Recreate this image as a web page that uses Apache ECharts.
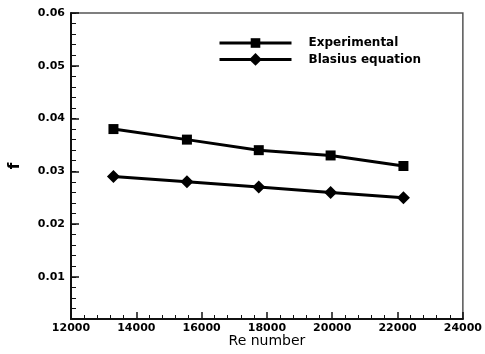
<!DOCTYPE html>
<html>
<head>
<meta charset="utf-8">
<script src="https://cdn.jsdelivr.net/npm/echarts@6/dist/echarts.min.js"></script>
<style>html,body{margin:0;padding:0;background:#fff;}#c{width:485px;height:354px;}</style>
</head>
<body>
<div id="c"></div>
<script>
var reNumbers = [13300, 15550, 17750, 19950, 22180];
var experimental = [0.038, 0.036, 0.034, 0.033, 0.031];
var blasius = [0.029, 0.028, 0.027, 0.026, 0.025];
var seriesNames = ['Experimental', 'Blasius equation'];
var xTitle = 'Re number';
var yTitle = 'f';

function pairs(xs, ys) { return xs.map(function (x, i) { return [x, ys[i]]; }); }

var font = 'DejaVu Sans';
var legendText = { fontFamily: font, fontSize: 12, fontWeight: 'bold', color: '#000' };
var chart = echarts.init(document.getElementById('c'), null, { renderer: 'canvas' });
chart.setOption({
  animation: false,
  backgroundColor: '#fff',
  grid: { left: 68, right: 19, top: 13, bottom: 35, show: true, borderColor: '#555', borderWidth: 1.5, backgroundColor: 'transparent' },
  legend: [{
    orient: 'vertical', left: 218, top: 37, itemWidth: 72, itemHeight: 12, padding: 0,
    data: [seriesNames[0]], lineStyle: { width: 3, color: '#000' },
    textStyle: Object.assign({ padding: [0, 0, 0, 12] }, legendText)
  }, {
    orient: 'vertical', left: 218, top: 53, itemWidth: 72, itemHeight: 16, padding: 0,
    data: [seriesNames[1]], lineStyle: { width: 3, color: '#000' },
    textStyle: Object.assign({ padding: [0, 0, 0, 12] }, legendText)
  }],
  xAxis: [{
    type: 'value', min: 12000, max: 24000, interval: 2000,
    name: xTitle, nameLocation: 'middle', nameGap: 15, nameMoveOverlap: false,
    nameTextStyle: { fontFamily: font, fontSize: 14, color: '#000', verticalAlign: 'top' },
    axisLine: { show: true, lineStyle: { color: '#111', width: 2 } },
    axisTick: { show: true, inside: true, length: 7, lineStyle: { color: '#111', width: 1.5 } },
    minorTick: { show: true, splitNumber: 5, length: 4, lineStyle: { color: '#111', width: 1 } },
    axisLabel: { fontFamily: font, fontSize: 11, fontWeight: 'bold', color: '#000', margin: 4,
      formatter: function (v) { return String(v); } },
    splitLine: { show: false }
  }],
  yAxis: [{
    type: 'value', min: 0.002, max: 0.06, interval: 0.002, position: 'left',
    name: yTitle, nameLocation: 'middle', nameGap: 48, nameRotate: 90, nameMoveOverlap: false,
    nameTextStyle: { fontFamily: font, fontSize: 15, fontWeight: 'bold', color: '#000' },
    axisLine: { show: true, lineStyle: { color: '#111', width: 2 } },
    axisTick: { show: true, inside: true, length: 5, lineStyle: { color: '#111', width: 1 } },
    axisLabel: {
      interval: 0, fontFamily: font, fontSize: 11, fontWeight: 'bold', color: '#000', margin: 6,
      formatter: function (v) {
        var k = v * 100;
        if (Math.abs(k - Math.round(k)) < 1e-6 && Math.round(k) >= 1) return (Math.round(k) / 100).toFixed(2);
        return '';
      }
    },
    splitLine: { show: false }
  }, {
    type: 'value', min: 0.002, max: 0.06, splitNumber: 6, position: 'left', offset: 0,
    axisLine: { show: false },
    axisTick: { show: true, inside: true, length: 8, lineStyle: { color: '#111', width: 1.5 } },
    axisLabel: { show: false },
    splitLine: { show: false }
  }],
  series: [{
    name: seriesNames[0], type: 'line', data: pairs(reNumbers, experimental),
    symbol: 'rect', symbolSize: 10, showAllSymbol: true,
    lineStyle: { color: '#000', width: 3 }, itemStyle: { color: '#000' }
  }, {
    name: seriesNames[1], type: 'line', data: pairs(reNumbers, blasius),
    symbol: 'diamond', symbolSize: 13, showAllSymbol: true,
    lineStyle: { color: '#000', width: 3 }, itemStyle: { color: '#000' }
  }]
});
</script>
</body>
</html>
